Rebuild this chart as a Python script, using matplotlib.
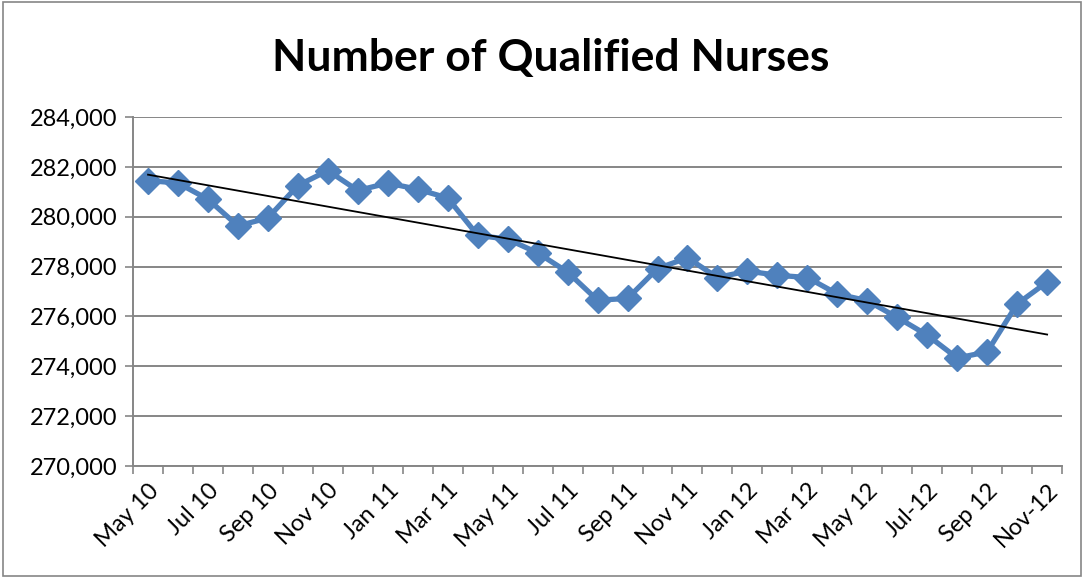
import matplotlib.pyplot as plt
import numpy as np
from matplotlib.patches import Rectangle

# monthly data, May 2010 .. Nov 2012
months = ["May 10", "Jun 10", "Jul 10", "Aug 10", "Sep 10", "Oct 10", "Nov 10", "Dec 10",
          "Jan 11", "Feb 11", "Mar 11", "Apr 11", "May 11", "Jun 11", "Jul 11", "Aug 11",
          "Sep 11", "Oct 11", "Nov 11", "Dec 11", "Jan 12", "Feb 12", "Mar 12", "Apr 12",
          "May 12", "Jun 12", "Jul-12", "Aug 12", "Sep 12", "Oct 12", "Nov-12"]
nurses = [281450, 281350, 280700, 279630, 279950, 281250, 281850, 281050,
          281350, 281100, 280750, 279250, 279100, 278550, 277780, 276650,
          276720, 277920, 278350, 277560, 277820, 277650, 277560, 276900,
          276630, 275960, 275250, 274330, 274580, 276500, 277380]
y_ticks = list(range(270000, 284001, 2000))

BLUE = "#4F81BD"
GRID = "#868686"

plt.rcParams["font.family"] = ["Lato", "DejaVu Sans"]

fig = plt.figure(figsize=(10.86, 5.78), dpi=100)
ax = fig.add_axes([0.1225, 0.1938, 0.8555, 0.6038])

x = np.arange(len(nurses))
ax.plot(x, nurses, color=BLUE, lw=3.8, marker="D", ms=13, mfc=BLUE, mec=BLUE,
        zorder=3, solid_joinstyle="round")

# linear trendline
slope, intercept = np.polyfit(x, nurses, 1)
ax.plot(x, slope * x + intercept, color="black", lw=1.3, zorder=4)

ax.set_xlim(-0.5, len(nurses) - 0.5)
ax.set_ylim(y_ticks[0], y_ticks[-1])
ax.set_yticks(y_ticks)
ax.set_yticklabels([f"{v:,}" for v in y_ticks], fontsize=17)
ax.set_xticks(x[::2])
ax.set_xticklabels(months[::2], rotation=45, ha="right", rotation_mode="anchor",
                   fontsize=17)
ax.set_xticks(np.arange(-0.5, len(nurses), 1), minor=True)
ax.tick_params(axis="x", which="major", length=0, pad=10)
ax.tick_params(axis="x", which="minor", length=6, color=GRID, width=1.2)
ax.tick_params(axis="y", length=6, color=GRID, width=1.2, pad=5)

ax.grid(axis="y", color=GRID, lw=1.4)
ax.set_axisbelow(True)
for side in ["top", "right"]:
    ax.spines[side].set_visible(False)
for side in ["left", "bottom"]:
    ax.spines[side].set_color(GRID)
    ax.spines[side].set_linewidth(1.4)

fig.text(0.507, 0.90, "Number of Qualified Nurses", ha="center", va="center",
         fontsize=32, fontweight="bold")

fig.patches.append(Rectangle((0.003, 0.004), 0.992, 0.992, transform=fig.transFigure,
                             fill=False, edgecolor=GRID, lw=1.2))

fig.savefig("out.png", dpi=100)
